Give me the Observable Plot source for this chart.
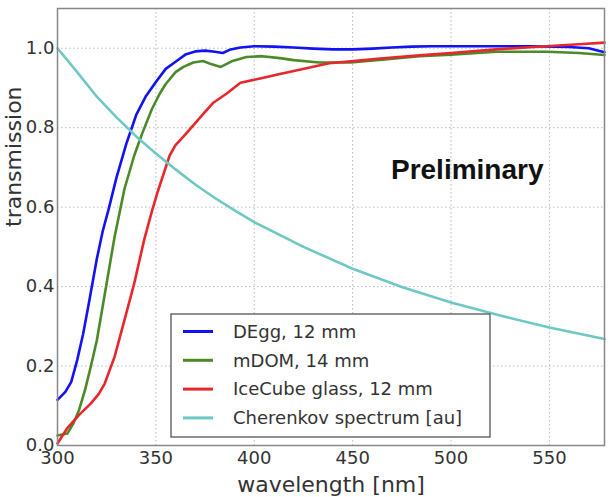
<!DOCTYPE html>
<html>
<head>
<meta charset="utf-8">
<script src="https://cdn.jsdelivr.net/npm/d3@7"></script>
<script src="https://cdn.jsdelivr.net/npm/@observablehq/plot@0.6"></script>
<style>
  html, body { margin: 0; padding: 0; background: #fff; }
  svg { display: block; }
</style>
</head>
<body>
<div id="chart"></div>
<script>
// ---- data ----
const seriesNames = ["DEgg, 12 mm", "mDOM, 14 mm", "IceCube glass, 12 mm", "Cherenkov spectrum [au]"];
const seriesColors = ["#1212f2", "#4b8a28", "#e6282c", "#6ec8c4"];

const deggNm = [300,304,307,310,313,316,320,323,326,330,335,340,345,350,355,360,365,370,375,380,384,388,393,400,410,420,430,440,450,460,470,480,490,500,520,540,560,570,578];
const deggT  = [0.115,0.135,0.16,0.215,0.28,0.36,0.47,0.54,0.595,0.675,0.76,0.832,0.88,0.915,0.948,0.966,0.984,0.992,0.994,0.991,0.988,0.997,1.002,1.005,1.004,1.002,0.999,0.997,0.997,0.999,1.002,1.004,1.005,1.005,1.005,1.005,1.003,1.0,0.99];

const mdomNm = [300,305,308,311,314,317,320,324,329,334,339,343,348,352,355,360,364,369,374,378,383,389,396,404,413,420,433,449,465,484,500,523,549,565,578];
const mdomT  = [0.025,0.03,0.055,0.09,0.14,0.2,0.265,0.38,0.525,0.645,0.73,0.785,0.847,0.886,0.91,0.94,0.953,0.964,0.968,0.96,0.953,0.968,0.978,0.98,0.975,0.97,0.964,0.964,0.971,0.98,0.984,0.991,0.991,0.988,0.983];

const icNm = [300,305,311,317,321,324,329,334,339,344,348,351,354,357,360,365,369,375,379,386,393,403,413,423,438,449,464,484,500,523,542,565,578];
const icT  = [0.005,0.044,0.077,0.106,0.13,0.156,0.223,0.315,0.408,0.517,0.59,0.64,0.685,0.73,0.756,0.783,0.806,0.84,0.862,0.886,0.913,0.924,0.935,0.946,0.962,0.967,0.974,0.982,0.988,0.997,1.003,1.01,1.014];

const cherNm = [300,310,320,330,340,350,360,370,380,390,400,425,450,475,500,525,550,578];
const cherT  = [1.0,0.94,0.878,0.826,0.778,0.735,0.695,0.657,0.623,0.592,0.562,0.50,0.445,0.399,0.36,0.327,0.297,0.268];

const xTicks = [300,350,400,450,500,550];
const yTicks = [0.0,0.2,0.4,0.6,0.8,1.0];
const xLabel = "wavelength [nm]";
const yLabel = "transmission";
const watermark = "Preliminary";

// ---- build table ----
const groups = [[deggNm,deggT],[mdomNm,mdomT],[icNm,icT],[cherNm,cherT]];
const rows = [];
groups.forEach(([nm,t], i) => nm.forEach((w, j) => rows.push({series: seriesNames[i], wl: w, t: t[j]})));

const W = 610, H = 497;
const plot = Plot.plot({
  width: W, height: H,
  marginLeft: 57, marginRight: 6, marginTop: 8, marginBottom: 52,
  x: {domain: [300, 578]},
  y: {domain: [0, 1.1]},
  color: {domain: seriesNames, range: seriesColors},
  style: {fontFamily: "DejaVu Sans", fontSize: "18px", color: "#333", background: "#fff"},
  marks: [
    Plot.gridX(xTicks, {stroke: "#aaa", strokeOpacity: 0.8, strokeDasharray: "1.5,2.5"}),
    Plot.gridY(yTicks, {stroke: "#aaa", strokeOpacity: 0.8, strokeDasharray: "1.5,2.5"}),
    Plot.axisX(xTicks, {tickSize: 0, tickPadding: 6, label: null, fontSize: 18, tickFormat: d => String(d)}),
    Plot.axisY(yTicks, {tickSize: 0, tickPadding: 3, label: null, fontSize: 18, tickFormat: d => d.toFixed(1)}),
    Plot.line(rows, {x: "wl", y: "t", z: "series", stroke: "series", strokeWidth: 2.6, curve: "linear"}),
    Plot.frame({stroke: "#888", strokeWidth: 1.5}),
    Plot.text([xLabel], {frameAnchor: "bottom", lineAnchor: "middle", dy: 39, fontSize: 22, fill: "#333"}),
    Plot.text([yLabel], {frameAnchor: "left", dx: -44, rotate: -90, fontSize: 22, fill: "#333"}),
    Plot.text([watermark], {frameAnchor: "top-right", lineAnchor: "middle", dx: -61, dy: 162, textAnchor: "end", fontSize: 28, fontWeight: "bold", fontFamily: "Liberation Sans", fill: "#111"})
  ]
});

// ---- legend ----
const svg = d3.select(plot);
const lg = svg.append("g").attr("text-anchor", "start");
lg.append("rect").attr("x", 171).attr("y", 314).attr("width", 319).attr("height", 123)
  .attr("fill", "#fff").attr("stroke", "#555").attr("stroke-width", 1.3);
seriesNames.forEach((name, i) => {
  const cy = 331.5 + i * 28.8;
  lg.append("line").attr("x1", 183).attr("x2", 213).attr("y1", cy).attr("y2", cy)
    .attr("stroke", seriesColors[i]).attr("stroke-width", 3);
  lg.append("text").attr("x", 233).attr("y", cy).attr("dy", "0.35em")
    .attr("text-anchor", "start")
    .attr("font-family", "DejaVu Sans").attr("font-size", 18).attr("fill", "#333").text(name);
});

document.getElementById("chart").appendChild(plot);
</script>
</body>
</html>
